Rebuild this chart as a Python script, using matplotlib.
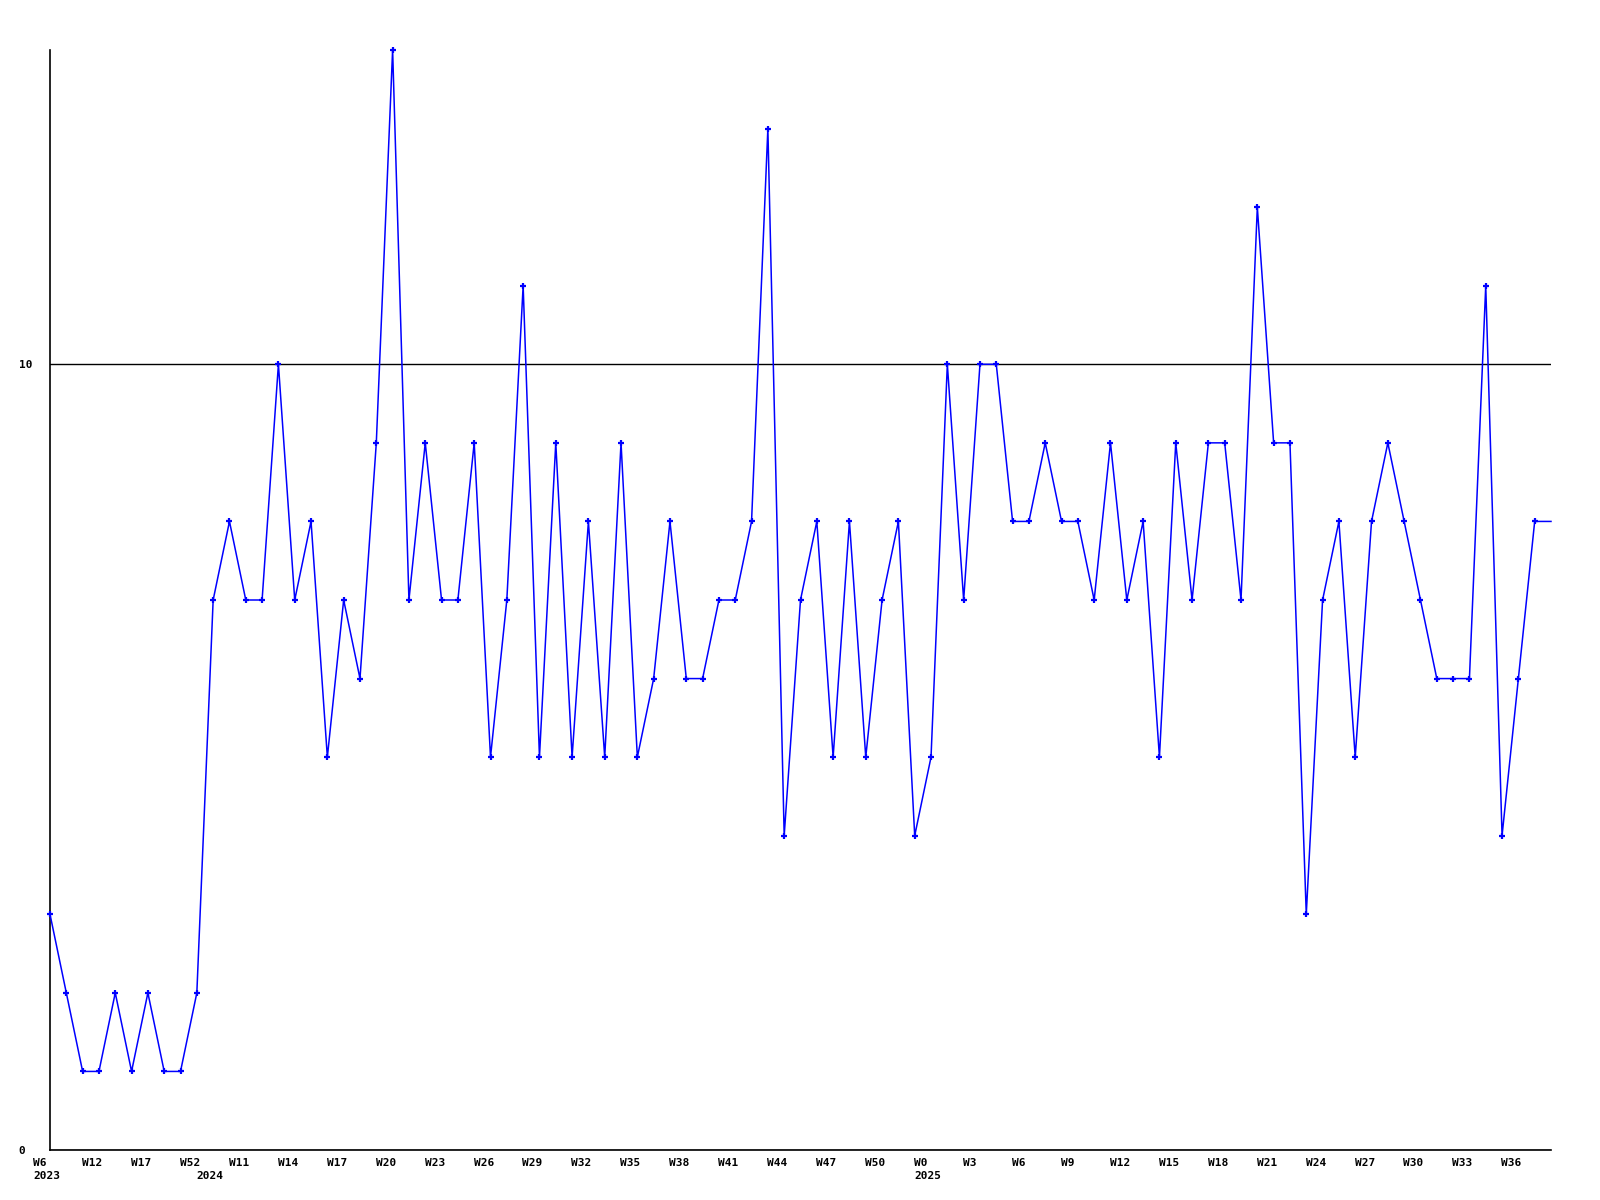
import matplotlib
matplotlib.use("Agg")
import matplotlib.pyplot as plt
from matplotlib.transforms import ScaledTranslation, blended_transform_factory

# ---- data ----
values = [3, 2, 1, 1, 2, 1, 2, 1, 1, 2,
          7, 8, 7, 7, 10, 7, 8, 5, 7, 6,
          9, 14, 7, 9, 7, 7, 9, 5, 7, 11,
          5, 9, 5, 8, 5, 9, 5, 6, 8, 6,
          6, 7, 7, 8, 13, 4, 7, 8, 5, 8,
          5, 7, 8, 4, 5, 10, 7, 10, 10, 8,
          8, 9, 8, 8, 7, 9, 7, 8, 5, 9,
          7, 9, 9, 7, 12, 9, 9, 3, 7, 8,
          5, 8, 9, 8, 7, 6, 6, 6, 11, 4,
          6, 8, 8]
week_labels = ["W6", "W12", "W17", "W52", "W11", "W14", "W17", "W20", "W23", "W26",
               "W29", "W32", "W35", "W38", "W41", "W44", "W47", "W50", "W0", "W3",
               "W6", "W9", "W12", "W15", "W18", "W21", "W24", "W27", "W30", "W33", "W36"]
year_positions = [0, 10, 54]
year_labels = ["2023", "2024", "2025"]
y_ticks = [0, 10]
y_tick_labels = ["0", "10"]

FONT = dict(family="DejaVu Sans Mono", weight="bold", size=8)

fig = plt.figure(figsize=(16, 12), dpi=100)
ax = fig.add_axes([50 / 1600, 50 / 1200, 1501 / 1600, 1100 / 1200])

x = list(range(len(values)))
ax.plot(x, values, color="#0000ff", lw=1.1, marker="+", ms=5, mew=1.6,
        markevery=list(range(len(values) - 1)), clip_on=False, zorder=3)

ax.set_xlim(0, len(values) - 1)
ax.set_ylim(0, 14)

for s in ["top", "right"]:
    ax.spines[s].set_visible(False)
for s in ["left", "bottom"]:
    ax.spines[s].set_color("black")
    ax.spines[s].set_linewidth(1.2)

# y ticks
ax.set_yticks(y_ticks)
ax.set_yticklabels(y_tick_labels, fontdict=FONT, ha="left")
ax.tick_params(axis="y", length=0, pad=22.5)
ax.yaxis.grid(True, color="black", lw=1.0)
ax.set_axisbelow(True)

# x ticks: week labels every third point
pos = [3 * i for i in range(len(week_labels))]
ax.set_xticks(pos)
ax.set_xticklabels(week_labels, fontdict=FONT, ha="left")
ax.tick_params(axis="x", which="both", length=0, pad=6)

off = ScaledTranslation(-17 / 100, 0, fig.dpi_scale_trans)
for lbl in ax.get_xticklabels():
    lbl.set_transform(lbl.get_transform() + off)

# year labels on a second line
trans = blended_transform_factory(ax.transData, ax.transAxes) + \
    ScaledTranslation(-17 / 100, -21 / 100, fig.dpi_scale_trans)
for p, yl in zip(year_positions, year_labels):
    ax.text(p, 0, yl, transform=trans, ha="left", va="top", **FONT)

fig.savefig("out.png", dpi=100, facecolor="white")
